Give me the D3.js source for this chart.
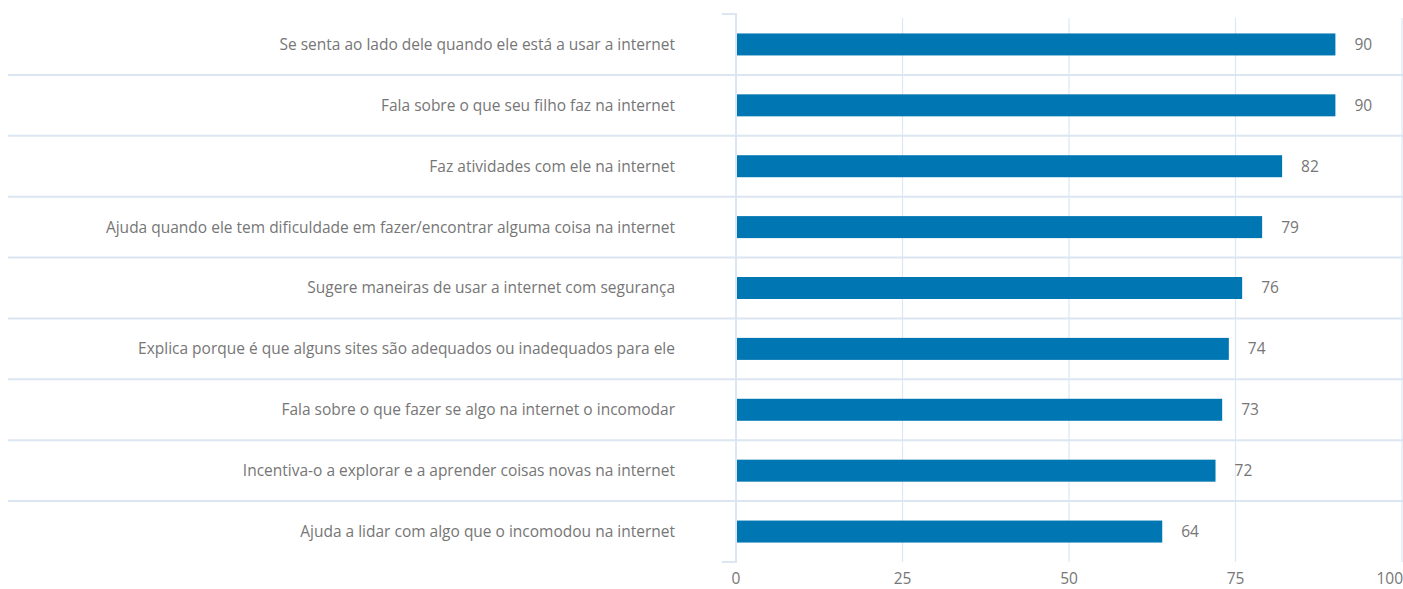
<!DOCTYPE html>
<html>
<head>
<meta charset="utf-8">
<script src="https://cdn.jsdelivr.net/npm/d3@7"></script>
<style>
  html, body { margin: 0; padding: 0; background: #ffffff; }
  svg text { font-family: "Open Sans", "Noto Sans", sans-serif; fill: #767676; }
</style>
</head>
<body>
<svg id="chart" width="1403" height="589"></svg>
<script>
// Row labels, top to bottom
const categories = [
  "Se senta ao lado dele quando ele está a usar a internet",
  "Fala sobre o que seu filho faz na internet",
  "Faz atividades com ele na internet",
  "Ajuda quando ele tem dificuldade em fazer/encontrar alguma coisa na internet",
  "Sugere maneiras de usar a internet com segurança",
  "Explica porque é que alguns sites são adequados ou inadequados para ele",
  "Fala sobre o que fazer se algo na internet o incomodar",
  "Incentiva-o a explorar e a aprender coisas novas na internet",
  "Ajuda a lidar com algo que o incomodou na internet"
];
const values = [90, 90, 82, 79, 76, 74, 73, 72, 64];
const xTicks = [0, 25, 50, 75, 100];

const svg = d3.select("#chart");
const plotLeft = 736, plotRight = 1402, plotTop = 14, plotBottom = 562;
const fontSize = 15.5;

const x = d3.scaleLinear().domain([0, 100]).range([plotLeft, plotRight]);
const y = d3.scaleBand().domain(categories).range([plotTop, plotBottom]).paddingInner(0).paddingOuter(0);
const barH = 22;

// vertical grid lines
svg.append("g").selectAll("line")
  .data(xTicks.filter(t => t > 0))
  .join("line")
  .attr("x1", d => x(d)).attr("x2", d => x(d))
  .attr("y1", plotTop + 4).attr("y2", plotBottom)
  .attr("stroke", "#dde7f3").attr("stroke-width", 1.2);

// horizontal separators between rows
svg.append("g").selectAll("line")
  .data(categories.slice(1))
  .join("line")
  .attr("x1", 8).attr("x2", 1403)
  .attr("y1", d => y(d)).attr("y2", d => y(d))
  .attr("stroke", "#dce6f2").attr("stroke-width", 2);

// category axis line with end ticks
svg.append("path")
  .attr("d", `M${plotLeft - 14},${plotTop}H${plotLeft}V${plotBottom}H${plotLeft - 14}`)
  .attr("fill", "none").attr("stroke", "#dce6f2").attr("stroke-width", 2);

// bars
svg.append("g").selectAll("rect")
  .data(values)
  .join("rect")
  .attr("x", x(0) + 1)
  .attr("y", (d, i) => y(categories[i]) + y.bandwidth() / 2 - barH / 2)
  .attr("width", d => x(d) - x(0) - 1)
  .attr("height", barH)
  .attr("fill", "#0077b3");

// value labels
svg.append("g").selectAll("text")
  .data(values)
  .join("text")
  .attr("x", d => x(d) + 19)
  .attr("y", (d, i) => y(categories[i]) + y.bandwidth() / 2)
  .attr("dy", "0.35em")
  .attr("font-size", fontSize)
  .text(d => d);

// category labels
svg.append("g").selectAll("text")
  .data(categories)
  .join("text")
  .attr("x", 675)
  .attr("y", d => y(d) + y.bandwidth() / 2)
  .attr("dy", "0.35em")
  .attr("text-anchor", "end")
  .attr("font-size", fontSize)
  .text(d => d);

// x tick labels
svg.append("g").selectAll("text")
  .data(xTicks)
  .join("text")
  .attr("x", d => x(d))
  .attr("y", 584)
  .attr("text-anchor", d => d === 100 ? "end" : "middle")
  .attr("dx", d => d === 100 ? 1 : 0)
  .attr("font-size", fontSize)
  .text(d => d);
</script>
</body>
</html>
